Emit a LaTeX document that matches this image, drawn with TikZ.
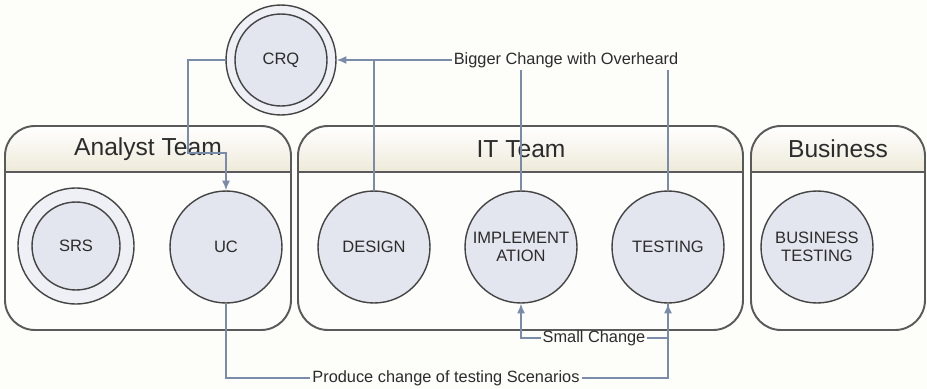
\documentclass[tikz,border=0pt]{standalone}
\usepackage{fontspec}
\setmainfont{Liberation Sans}
\usetikzlibrary{arrows.meta}

\definecolor{pagebg}{HTML}{FDFDFA}
\definecolor{bodyfill}{HTML}{FDFDFB}
\definecolor{headfill}{HTML}{EEEAD9}
\definecolor{teamline}{HTML}{5A5A5A}
\definecolor{bubblefill}{HTML}{E4E6EF}
\definecolor{ringfill}{HTML}{EEF0F5}
\definecolor{bubbleline}{HTML}{444444}
\definecolor{linkcol}{HTML}{7A8CAA}
\definecolor{textgray}{HTML}{2C2C2C}

\begin{document}
\begin{tikzpicture}[x=0.02cm,y=-0.02cm,
    bubble/.style={circle, draw=bubbleline, line width=0.8pt, fill=bubblefill, minimum size=2.24cm,
      inner sep=0pt, align=center, text=textgray, font=\fontsize{9.4}{10.4}\selectfont},
    headtext/.style={text=textgray, font=\fontsize{14}{16}\selectfont},
    linktext/.style={inner sep=1pt, text=textgray, font=\fontsize{9.3}{11}\selectfont},
    link/.style={draw=linkcol, line width=0.8pt},
    tip/.style={-{Latex[length=5.5pt,width=4.5pt]}},
    teamline/.style={draw=teamline, line width=1.1pt}]

      \fill[pagebg] (0,0) rectangle (927,389);

      % Analyst Team box
      \fill[bodyfill, rounded corners=0.6cm] (5,126) rectangle (291,330);
      \begin{scope}
        \clip[rounded corners=0.6cm] (5,126) rectangle (291,330);
        \shade[top color=white, bottom color=headfill] (5,126) rectangle (291,172);
      \end{scope}
      \draw[teamline, rounded corners=0.6cm] (5,126) rectangle (291,330);
      \draw[teamline] (5,172) -- (291,172);
      \node[headtext] (analysthd) at (148,149) {Analyst Team};

      % IT Team box
      \fill[bodyfill, rounded corners=0.6cm] (298,126) rectangle (743,330);
      \begin{scope}
        \clip[rounded corners=0.6cm] (298,126) rectangle (743,330);
        \shade[top color=white, bottom color=headfill] (298,126) rectangle (743,172);
      \end{scope}
      \draw[teamline, rounded corners=0.6cm] (298,126) rectangle (743,330);
      \draw[teamline] (298,172) -- (743,172);
      \node[headtext] (ithd) at (521,149) {IT Team};

      % Business box
      \fill[bodyfill, rounded corners=0.6cm] (751,126) rectangle (925,330);
      \begin{scope}
        \clip[rounded corners=0.6cm] (751,126) rectangle (925,330);
        \shade[top color=white, bottom color=headfill] (751,126) rectangle (925,172);
      \end{scope}
      \draw[teamline, rounded corners=0.6cm] (751,126) rectangle (925,330);
      \draw[teamline] (751,172) -- (925,172);
      \node[headtext] (businesshd) at (838,149) {Business};

      % Change request
      \node[bubble, minimum size=2.2cm, fill=ringfill] (CRQ) at (281,60) {};
      \node[bubble, minimum size=1.84cm] (CRQin) at (CRQ) {CRQ};

      % Analyst Team members
      \node[bubble, minimum size=2.32cm, fill=ringfill] (SRS) at (76,246) {};
      \node[bubble, minimum size=1.76cm] (SRSin) at (SRS) {SRS};
      \node[bubble] (UC) at (226,247) {UC};

      % IT Team members
      \node[bubble] (DESIGN) at (374,247) {DESIGN};
      \node[bubble] (IMPL) at (521,247) {IMPLEMENT\\ATION};
      \node[bubble] (TEST) at (668,247) {TESTING};

      % Business members
      \node[bubble] (BTEST) at (817,247) {BUSINESS\\TESTING};

      % Change flows
      \node[linktext] (bigger) at (566,60) {Bigger Change with Overheard};
      \node[linktext] (small) at (594,338) {Small Change};
      \node[linktext] (scen) at (446,378) {Produce change of testing Scenarios};
      \coordinate (crqbend) at (188,153);

      \draw[link, tip] (CRQ.west) -| (crqbend) -| (UC.north);
      \draw[link, tip] (bigger.west) -- (CRQ.east);
      \draw[link] (DESIGN.north) -- (DESIGN.north |- CRQ.east);
      \draw[link] (IMPL.north) -- (IMPL.north |- bigger.south);
      \draw[link] (TEST.north) -- (TEST.north |- bigger.south);
      \draw[link] (UC.south) |- (scen.west);
      \draw[link, tip] (scen.east) -| (TEST.south);
      \draw[link] (TEST.south) |- (small.east);
      \draw[link, tip] (small.west) -| (IMPL.south);
    \end{tikzpicture}
\end{document}
